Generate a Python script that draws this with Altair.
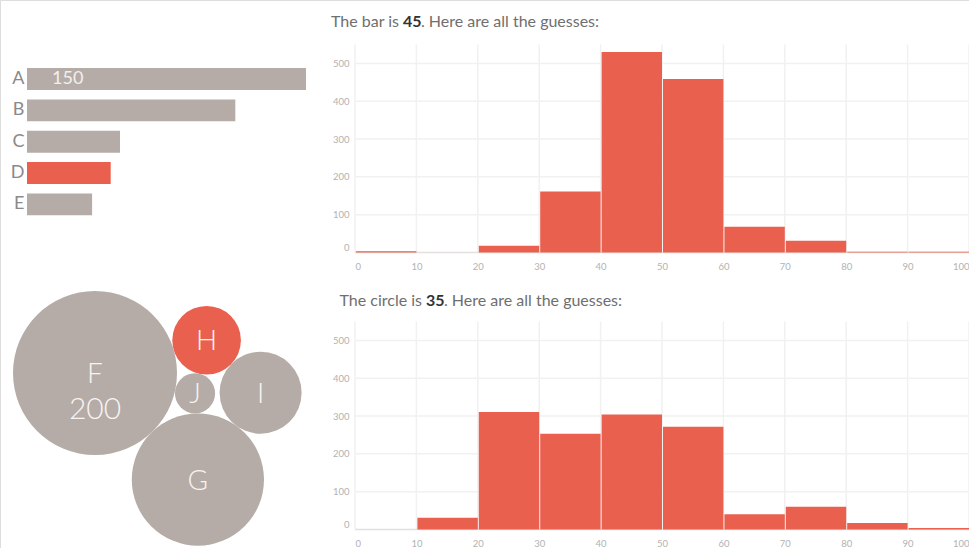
import math
import altair as alt
import pandas as pd

# ---------------- data ----------------
bar_labels = ["A", "B", "C", "D", "E"]
bar_values = [150, 112, 50, 45, 35]
bar_highlight = "D"

bubble_labels = ["F", "G", "H", "I", "J"]
bubble_values = [200, 130, 35, 50, 12]
bubble_highlight = "H"

bin_starts = [0, 10, 20, 30, 40, 50, 60, 70, 80, 90]
bin_ends = [10, 20, 30, 40, 50, 60, 70, 80, 90, 100]
bar_guesses = [3, 0, 18, 161, 530, 459, 68, 31, 2, 2]
circle_guesses = [0, 31, 311, 253, 304, 272, 40, 60, 17, 4]

x_ticks = [0, 10, 20, 30, 40, 50, 60, 70, 80, 90, 100]
y_ticks = [0, 100, 200, 300, 400, 500]

# ---------------- style ----------------
RED = "#E9604F"
GREY = "#B5ACA8"
FONT = "Lato"
W, H = 969, 548
LABEL_GREY = "#b2b2b2"
GRID = "#f1f1f1"

# ---------------- bar chart ----------------
bar_df = pd.DataFrame({"label": bar_labels, "value": bar_values, "base": 0})
bar_x = alt.Scale(domain=[0, max(bar_values)], range=[27, 306])
bar_y = alt.Scale(domain=bar_labels, range=[63.4, 220], paddingInner=0.3, paddingOuter=0.15)
bar_y_axis = alt.Axis(orient="left", offset=-27, title=None, domain=False, ticks=False,
                      grid=False, labelPadding=3, labelFontSize=18, labelColor="#8a8a8a",
                      labelFont=FONT)
bars = alt.Chart(bar_df).mark_bar().encode(
    x=alt.X("value:Q", scale=bar_x, axis=None),
    y=alt.Y("label:N", scale=bar_y, axis=bar_y_axis),
    color=alt.when(alt.datum.label == bar_highlight).then(alt.value(RED)).otherwise(alt.value(GREY)),
)
bar_text = alt.Chart(bar_df[bar_df["value"] == max(bar_values)]).mark_text(
    align="left", baseline="middle", dx=25, fontSize=18, color="#f3efed", font=FONT
).encode(
    x=alt.X("base:Q", scale=bar_x, axis=None),
    y=alt.Y("label:N", scale=bar_y, axis=bar_y_axis),
    text=alt.Text("value:Q"),
)
bar_layer = alt.layer(bars, bar_text)

# ---------------- bubble chart (simple tangent packing from the values) ----------------
R_MAX = 82.0
radius = {lab: R_MAX * math.sqrt(v / max(bubble_values)) for lab, v in zip(bubble_labels, bubble_values)}


def tangent_point(a, b, r, side):
    ax, ay, ar = a
    bx, by, br = b
    dx, dy = bx - ax, by - ay
    d = math.hypot(dx, dy)
    ux, uy = dx / d, dy / d
    ra, rb = ar + r, br + r
    x = (d * d + ra * ra - rb * rb) / (2 * d)
    h = math.sqrt(max(ra * ra - x * x, 0.0))
    px, py = -uy, ux
    return ax + x * ux + side * h * px, ay + x * uy + side * h * py


pos = {"F": (0.0, 0.0)}
ang = math.radians(46)
dFG = radius["F"] + radius["G"]
pos["G"] = (dFG * math.cos(ang), dFG * math.sin(ang))
for lab, a, b in [("J", "F", "G"), ("H", "F", "J"), ("I", "H", "G")]:
    pos[lab] = tangent_point((*pos[a], radius[a]), (*pos[b], radius[b]), radius[lab], -1)

bub_df = pd.DataFrame({
    "label": bubble_labels,
    "value": bubble_values,
    "cx": [pos[l][0] for l in bubble_labels],
    "cy": [pos[l][1] for l in bubble_labels],
})
xmin = min(pos[l][0] - radius[l] for l in bubble_labels)
ymin = min(pos[l][1] - radius[l] for l in bubble_labels)
bub_x = alt.Scale(domain=[xmin, xmin + 300], range=[13, 313])
bub_y = alt.Scale(domain=[ymin, ymin + 257], range=[291, 548])
bub_size = alt.Scale(type="linear", domain=[0, max(bubble_values)], range=[0, (2 * R_MAX) ** 2])

circles = alt.Chart(bub_df).mark_circle(opacity=1).encode(
    x=alt.X("cx:Q", scale=bub_x, axis=None),
    y=alt.Y("cy:Q", scale=bub_y, axis=None),
    size=alt.Size("value:Q", scale=bub_size, legend=None),
    color=alt.when(alt.datum.label == bubble_highlight).then(alt.value(RED)).otherwise(alt.value(GREY)),
)
bub_letters = alt.Chart(bub_df).mark_text(
    baseline="middle", align="center", dy=2, fontSize=28, color="#f7f4f2", font=FONT, fontWeight=300
).encode(
    x=alt.X("cx:Q", scale=bub_x, axis=None),
    y=alt.Y("cy:Q", scale=bub_y, axis=None),
    text="label:N",
)
bub_value = alt.Chart(bub_df[bub_df["value"] == max(bubble_values)]).mark_text(
    baseline="middle", align="center", dy=37, fontSize=30, color="#f7f4f2", font=FONT, fontWeight=300
).encode(
    x=alt.X("cx:Q", scale=bub_x, axis=None),
    y=alt.Y("cy:Q", scale=bub_y, axis=None),
    text="value:Q",
)
bubble_layer = alt.layer(circles, bub_letters, bub_value)


# ---------------- histograms ----------------
def histogram(counts, y_top, y_bottom):
    xs = alt.Scale(domain=[0, 100], range=[355, W])
    ys = alt.Scale(domain=[0, 550], range=[y_bottom, y_top])
    xaxis = alt.Axis(orient="bottom", offset=-(H - y_bottom), values=x_ticks, labelFlush=True,
                     domain=False, ticks=False, grid=False, labelPadding=9, labelFontSize=9.5,
                     labelColor=LABEL_GREY, labelFont=FONT, title=None)
    yaxis = alt.Axis(orient="left", offset=-355, values=y_ticks, labelFlush=True,
                     domain=False, ticks=False, grid=False, labelPadding=6, labelFontSize=9.5,
                     labelColor=LABEL_GREY, labelFont=FONT, title=None)
    vg = pd.DataFrame({"gx": x_ticks, "y0": 0, "y1": 550})
    hg = pd.DataFrame({"gy": y_ticks[1:], "x0": 0, "x1": 100})
    zg = pd.DataFrame({"gy": [0], "x0": [0], "x1": [100]})
    df = pd.DataFrame({"bin_start": bin_starts, "bin_end": bin_ends, "count": counts, "base": 0})

    vgrid = alt.Chart(vg).mark_rule(color=GRID, strokeWidth=1.5).encode(
        x=alt.X("gx:Q", scale=xs, axis=xaxis),
        y=alt.Y("y0:Q", scale=ys, axis=yaxis),
        y2="y1:Q",
    )
    hgrid = alt.Chart(hg).mark_rule(color=GRID, strokeWidth=1.5).encode(
        x=alt.X("x0:Q", scale=xs, axis=xaxis),
        x2="x1:Q",
        y=alt.Y("gy:Q", scale=ys, axis=yaxis),
    )
    zero = alt.Chart(zg).mark_rule(color="#e4e0de", strokeWidth=1.5).encode(
        x=alt.X("x0:Q", scale=xs, axis=xaxis),
        x2="x1:Q",
        y=alt.Y("gy:Q", scale=ys, axis=yaxis),
    )
    hbars = alt.Chart(df).mark_bar(color=RED, binSpacing=1).encode(
        x=alt.X("bin_start:Q", bin="binned", scale=xs, axis=xaxis),
        x2="bin_end:Q",
        y=alt.Y("count:Q", scale=ys, axis=yaxis),
        y2="base:Q",
    )
    return alt.layer(vgrid, hgrid, zero, hbars)


hist_bar = histogram(bar_guesses, 44.5, 252.5)
hist_circle = histogram(circle_guesses, 321.5, 529.5)


# ---------------- titles (mixed weight) ----------------
def title_parts(prefix, number, suffix, x_num, num_w, y):
    t1 = alt.Chart(pd.DataFrame({"t": [prefix]})).mark_text(
        align="right", baseline="middle", fontSize=16, color="#6f6f6f", font=FONT
    ).encode(x=alt.value(x_num - 4), y=alt.value(y), text="t:N")
    t2 = alt.Chart(pd.DataFrame({"t": [str(number)]})).mark_text(
        align="left", baseline="middle", fontSize=16, fontWeight="bold", color="#333333", font=FONT
    ).encode(x=alt.value(x_num), y=alt.value(y), text="t:N")
    t3 = alt.Chart(pd.DataFrame({"t": [suffix]})).mark_text(
        align="left", baseline="middle", fontSize=16, color="#6f6f6f", font=FONT
    ).encode(x=alt.value(x_num + num_w), y=alt.value(y), text="t:N")
    return [t1, t2, t3]


bar_answer = bar_values[bar_labels.index(bar_highlight)]
circle_answer = bubble_values[bubble_labels.index(bubble_highlight)]
titles = (title_parts("The bar is", bar_answer, ". Here are all the guesses:", 403, 18, 22)
          + title_parts("The circle is", circle_answer, ". Here are all the guesses:", 426, 18, 301))

chart = alt.layer(bar_layer, bubble_layer, hist_bar, hist_circle, *titles).resolve_scale(
    x="independent", y="independent", size="independent", color="independent"
).resolve_axis(
    x="independent", y="independent"
).properties(
    width=W, height=H, padding=0, background="white",
    autosize=alt.AutoSizeParams(type="none"),
).configure_view(stroke=None).configure(font=FONT)

chart.save("out.html", embed_options={"renderer": "svg", "actions": False})
